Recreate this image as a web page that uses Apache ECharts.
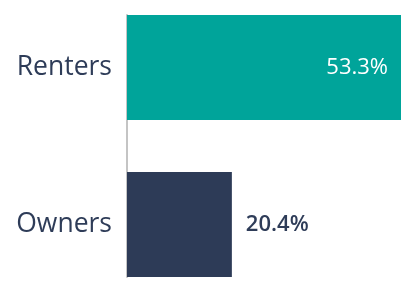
<!DOCTYPE html>
<html>
<head>
    <meta charset="UTF-8" />
    <title></title>
    <script src="https://cdn.jsdelivr.net/npm/echarts@6/dist/echarts.min.js"></script>
    <style>
        html, body { margin: 0; padding: 0; background: #fff; }
    </style>
</head>
<body>
    <div id="main" style="width:408px;height:286px;"></div>
    <script>
        // data
        var categories = ['Renters', 'Owners'];
        var values = [53.3, 20.4];

        var barColors = ['#00a49a', '#2d3b57'];
        var textColor = '#2e3c58';
        var font = '"Open Sans", "Noto Sans", sans-serif';

        var chart = echarts.init(document.getElementById('main'));

        var seriesData = values.map(function (v, i) {
            var inside = i === 0;
            return {
                value: v,
                itemStyle: { color: barColors[i] },
                label: {
                    position: inside ? 'insideRight' : 'right',
                    distance: inside ? 13 : 14,
                    color: inside ? '#ffffff' : textColor,
                    fontWeight: inside ? 500 : 600
                }
            };
        });

        var option = {
            animation: false,
            grid: [
                // bars: category centres sit on the grid edges
                { left: 127, right: 7, top: 67.5, bottom: 61.5 },
                // axis line only
                { left: 127, right: 7, top: 15, bottom: 9 }
            ],
            xAxis: [
                { gridIndex: 0, type: 'value', min: 0, max: 53.3, show: false },
                { gridIndex: 1, type: 'value', min: 0, max: 1, show: false }
            ],
            yAxis: [
                {
                    gridIndex: 0,
                    type: 'category',
                    data: categories,
                    inverse: true,
                    boundaryGap: false,
                    axisLine: { show: false },
                    axisTick: { show: false },
                    axisLabel: {
                        margin: 15,
                        color: textColor,
                        fontSize: 26.5,
                        fontFamily: font
                    }
                },
                {
                    gridIndex: 1,
                    type: 'category',
                    data: categories,
                    inverse: true,
                    axisLine: { show: true, lineStyle: { color: '#c4c4c4', width: 2 } },
                    axisTick: { show: false },
                    axisLabel: { show: false }
                }
            ],
            series: [
                {
                    type: 'bar',
                    xAxisIndex: 0,
                    yAxisIndex: 0,
                    barWidth: 105,
                    clip: false,
                    data: seriesData,
                    label: {
                        show: true,
                        fontSize: 22,
                        fontFamily: font,
                        formatter: function (p) { return p.value.toFixed(1) + '%'; }
                    }
                }
            ]
        };
        chart.setOption(option);
    </script>
</body>
</html>
